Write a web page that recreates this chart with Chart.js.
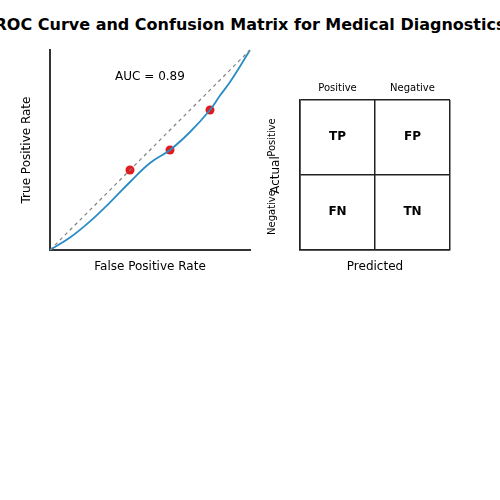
<!DOCTYPE html>
<html>
<head>
<meta charset="utf-8">
<script src="https://cdn.jsdelivr.net/npm/chart.js@4"></script>
<style>
  body { margin: 0; background: #fff; width: 500px; height: 500px; overflow: hidden; position: relative; }
  #title {
    position: absolute; top: 15px; left: 50%; transform: translateX(-50%);
    white-space: nowrap; font: bold 16px "DejaVu Sans"; line-height: 20px; color: #000;
  }
  #roc { position: absolute; left: 0; top: 0; }
  #cm { position: absolute; left: 250px; top: 50px; }
</style>
</head>
<body>
<div id="title">ROC Curve and Confusion Matrix for Medical Diagnostics</div>
<canvas id="roc" width="300" height="300"></canvas>
<canvas id="cm" width="250" height="250"></canvas>
<script>
// ROC curve
const fpr = [0, 0.1, 0.2, 0.3, 0.4, 0.5, 0.6, 0.7, 0.8, 0.85, 0.9, 0.95, 1.0];
const tpr = [0, 0.062, 0.143, 0.238, 0.34, 0.435, 0.5, 0.59, 0.7, 0.772, 0.84, 0.918, 1.0];
// operating points
const opFpr = [0.4, 0.6, 0.8];
const opTpr = [0.4, 0.5, 0.7];
const chanceLine = [0, 1];
const aucLabel = "AUC = 0.89";

// confusion matrix
const predLabels = ["Positive", "Negative"];
const actualLabels = ["Positive", "Negative"];
const cellLabels = [["TP", "FP"], ["FN", "TN"]];

Chart.defaults.font.family = "DejaVu Sans";
Chart.defaults.color = "#000";

function fixSize(size) {
   return function (scale) {
      if (scale.isHorizontal()) {
         scale.height = size;
      } else {
         scale.width = size;
      }
   };
}

const aucPlugin = {
   id: "auc",
   afterDatasetsDraw(chart) {
      const { ctx, scales } = chart;
      ctx.save();
      ctx.font = "12px 'DejaVu Sans'";
      ctx.fillStyle = "#000";
      ctx.textAlign = "center";
      ctx.textBaseline = "middle";
      ctx.fillText(aucLabel, scales.x.getPixelForValue(0.5), scales.y.getPixelForValue(0.865));
      ctx.restore();
   }
};

new Chart(document.getElementById("roc"), {
   type: "scatter",
   data: {
      datasets: [
         {
            data: chanceLine.map(v => ({ x: v, y: v })),
            showLine: true,
            borderColor: "#808080",
            borderWidth: 1.2,
            borderDash: [3.5, 3.5],
            pointRadius: 0,
         },
         {
            data: fpr.map((v, i) => ({ x: v, y: tpr[i] })),
            showLine: true,
            borderColor: "#2b8cc4",
            borderWidth: 1.8,
            tension: 0.4,
            pointRadius: 0,
            clip: false,
         },
         {
            data: opFpr.map((v, i) => ({ x: v, y: opTpr[i] })),
            showLine: false,
            backgroundColor: "#e31a1c",
            borderWidth: 0,
            pointRadius: 4.5,
         },
      ],
   },
   options: {
      responsive: false,
      animation: false,
      layout: { padding: { top: 50, right: 50, left: 0, bottom: 0 } },
      plugins: { legend: { display: false }, tooltip: { enabled: false } },
      scales: {
         x: {
            min: 0, max: 1,
            grid: { display: false, drawTicks: false },
            ticks: { display: false },
            border: { color: "#333", width: 2 },
            title: { display: true, text: "False Positive Rate", font: { size: 12 }, padding: { top: 0, bottom: 26 } },
            afterFit: fixSize(50),
         },
         y: {
            min: 0, max: 1,
            grid: { display: false, drawTicks: false },
            ticks: { display: false },
            border: { color: "#333", width: 2 },
            title: { display: true, text: "True Positive Rate", font: { size: 12 }, padding: { top: 20, bottom: 0 } },
            afterFit: fixSize(50),
         },
      },
   },
   plugins: [aucPlugin],
});

const cellPlugin = {
   id: "cells",
   afterDatasetsDraw(chart) {
      const { ctx, scales, chartArea } = chart;
      ctx.save();
      ctx.fillStyle = "#000";
      ctx.textAlign = "center";
      ctx.textBaseline = "middle";
      ctx.font = "bold 12px 'DejaVu Sans'";
      cellLabels.forEach((row, r) => {
         row.forEach((txt, c) => {
            ctx.fillText(txt, scales.x.getPixelForValue(c + 0.5), scales.y.getPixelForValue(1.5 - r) - 1);
         });
      });
      ctx.font = "10px 'DejaVu Sans'";
      actualLabels.forEach((txt, r) => {
         ctx.save();
         ctx.translate(chartArea.left - 28, scales.y.getPixelForValue(1.5 - r));
         ctx.rotate(-Math.PI / 2);
         ctx.fillText(txt, 0, 0);
         ctx.restore();
      });
      ctx.restore();
   }
};

new Chart(document.getElementById("cm"), {
   type: "scatter",
   data: {
      datasets: [
         {
            data: [{ x: 0.5, y: 1.5 }, { x: 1.5, y: 1.5 }, { x: 0.5, y: 0.5 }, { x: 1.5, y: 0.5 }],
            pointRadius: 0,
         },
      ],
   },
   options: {
      responsive: false,
      animation: false,
      layout: { padding: { top: 0, right: 50, left: 0, bottom: 0 } },
      plugins: { legend: { display: false }, tooltip: { enabled: false } },
      scales: {
         x: {
            min: 0, max: 2,
            ticks: { display: false, stepSize: 1 },
            grid: { color: "#222", lineWidth: 1.5, drawTicks: false },
            border: { color: "#222", width: 1.5 },
            title: { display: true, text: "Predicted", font: { size: 12 }, padding: { top: 0, bottom: 26 } },
            afterFit: fixSize(50),
         },
         x2: {
            position: "top",
            min: 0, max: 2,
            afterBuildTicks(scale) {
               scale.ticks = [{ value: 0.5 }, { value: 1.5 }];
            },
            ticks: {
               padding: 6,
               font: { size: 10 },
               callback: (v, i) => predLabels[i],
            },
            grid: { display: false, drawTicks: false },
            border: { display: false },
            afterFit: fixSize(50),
         },
         y: {
            min: 0, max: 2,
            ticks: { display: false, stepSize: 1 },
            grid: { color: "#222", lineWidth: 1.5, drawTicks: false },
            border: { color: "#222", width: 1.5 },
            title: { display: true, text: "Actual", font: { size: 12 }, padding: { top: 18.5, bottom: 0 } },
            afterFit: fixSize(50),
         },
      },
   },
   plugins: [cellPlugin],
});
</script>
</body>
</html>
